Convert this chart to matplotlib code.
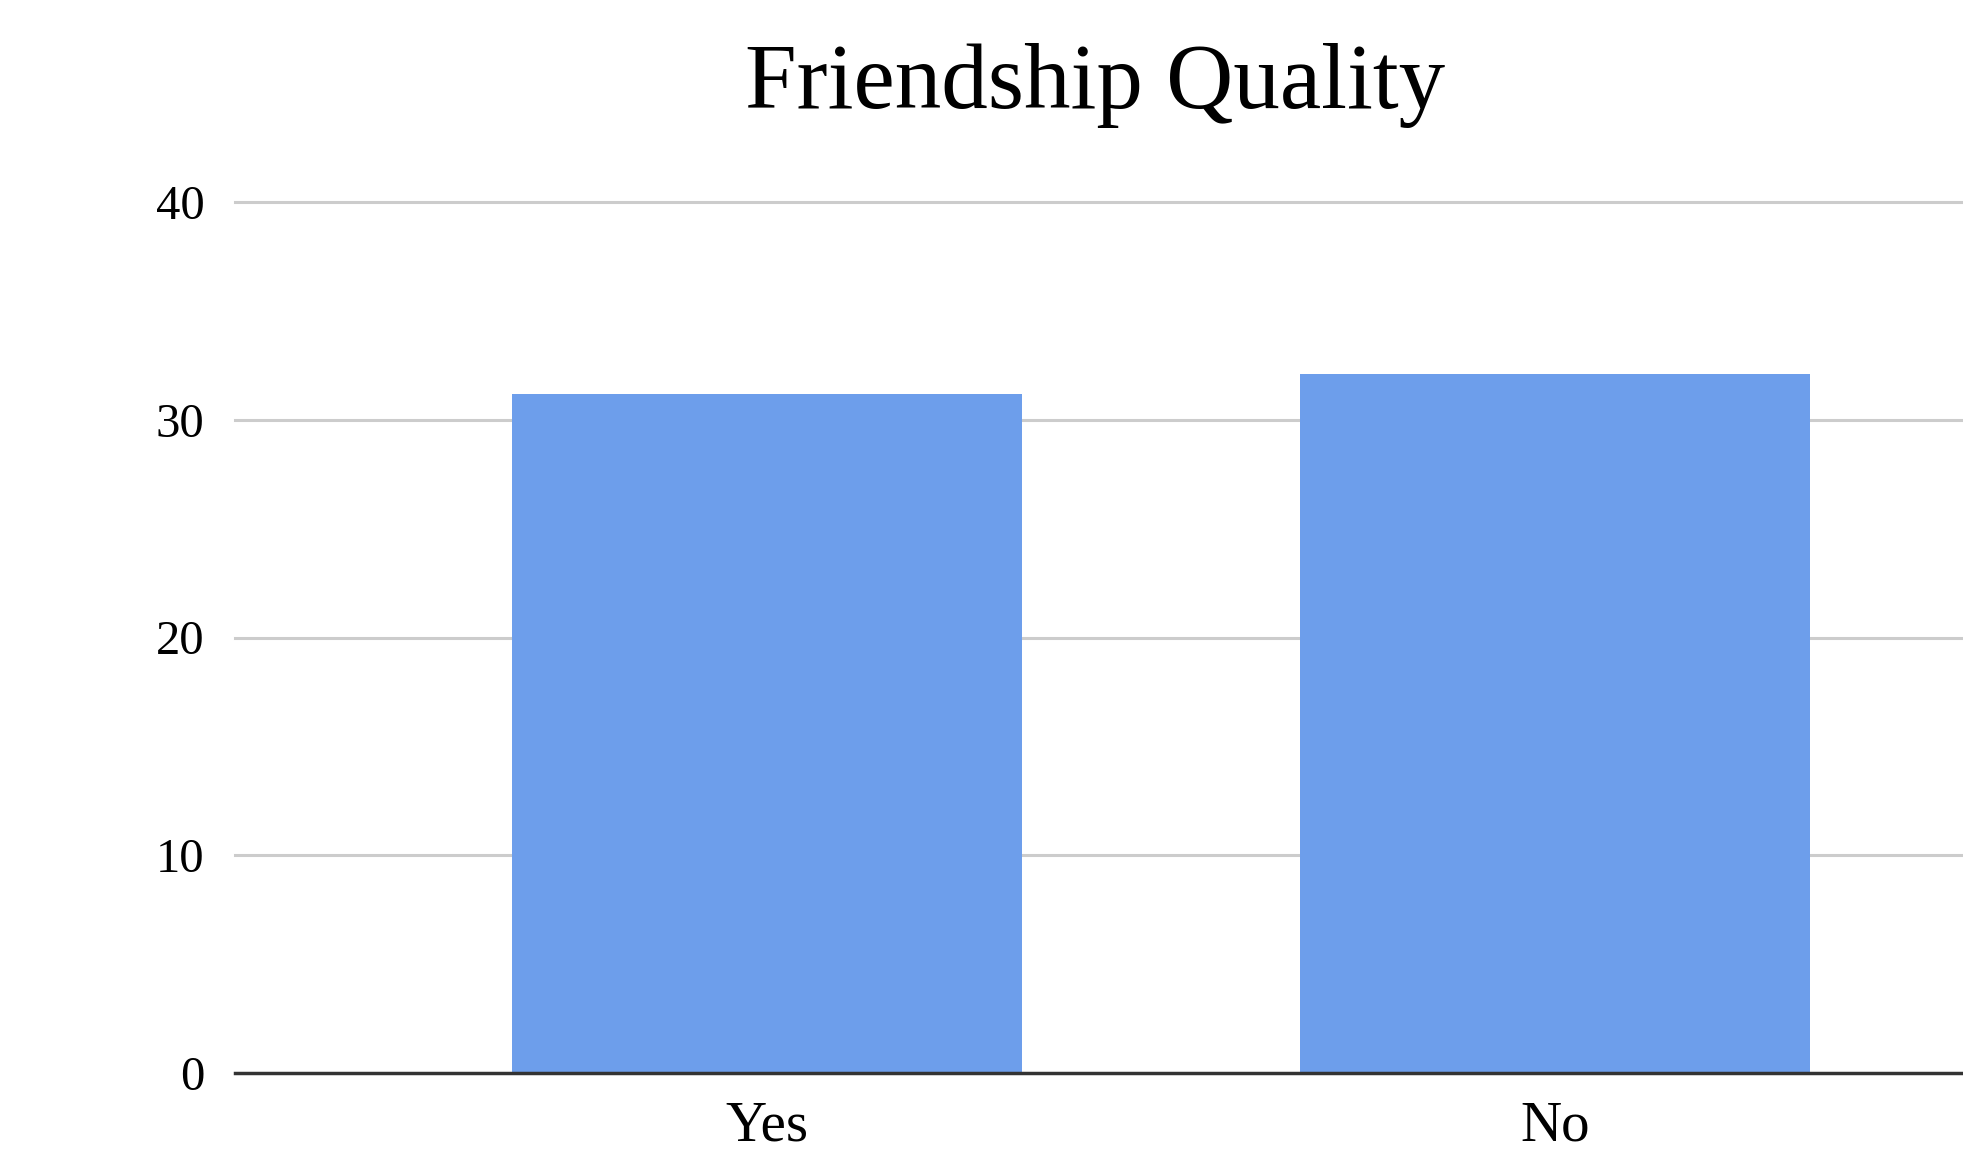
import matplotlib
matplotlib.use("Agg")
import matplotlib.pyplot as plt

categories = ["Yes", "No"]
values = [31.2, 32.1]
y_ticks = [0, 10, 20, 30, 40]
title = "Friendship Quality"

W, H = 1963, 1156
fig = plt.figure(figsize=(W / 100, H / 100), dpi=100)
fig.patch.set_facecolor("white")

left_px, right_px, top_px, bottom_px = 235, 1963, 202, 1073
ax = fig.add_axes([left_px / W, 1 - bottom_px / H,
                   (right_px - left_px) / W, (bottom_px - top_px) / H])

serif = ["Liberation Serif", "DejaVu Serif"]
x = list(range(len(categories)))
ax.bar(x, values, width=0.647, color="#6d9eeb", zorder=3)

ax.set_xlim(-0.675, 1.518)
ax.set_ylim(0, 40)
ax.set_yticks(y_ticks)
ax.set_yticklabels([str(t) for t in y_ticks], family=serif, fontsize=35)
ax.set_xticks(x)
ax.set_xticklabels(categories, family=serif, fontsize=41)
ax.tick_params(axis="y", length=0, pad=22)
ax.tick_params(axis="x", length=0, pad=20)

for t in y_ticks[1:]:
    ax.axhline(t, color="#cccccc", linewidth=2.2, zorder=1, clip_on=False)
ax.axhline(0, color="#333333", linewidth=2.5, zorder=4, clip_on=False)

for s in ax.spines.values():
    s.set_visible(False)

fig.text(1095 / W, 1 - 108 / H, title, family=serif, fontsize=67,
         ha="center", va="baseline", color="black")

fig.savefig("out.png", dpi=100, facecolor="white")
